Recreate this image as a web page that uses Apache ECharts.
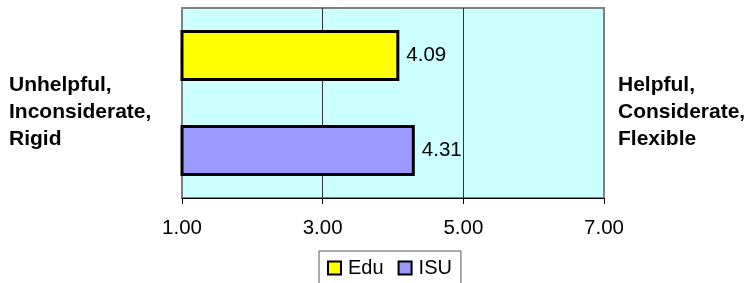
<!DOCTYPE html>
<html>
<head>
<meta charset="utf-8">
<script src="https://cdn.jsdelivr.net/npm/echarts@6/dist/echarts.min.js"></script>
<style>
html,body{margin:0;padding:0;background:#fff;}
#chart{width:748px;height:283px;}
</style>
</head>
<body>
<div id="chart"></div>
<script>
const categories = ['Edu', 'ISU'];
const seriesNames = ['Edu', 'ISU'];
const values = [4.09, 4.31];
const xTicks = [1, 3, 5, 7];
const leftLabel = 'Unhelpful,\nInconsiderate,\nRigid';
const rightLabel = 'Helpful,\nConsiderate,\nFlexible';
const colors = ['#FFFF00', '#9999FF'];

const FONT = "'Liberation Sans', Arial, sans-serif";

const chart = echarts.init(document.getElementById('chart'), null, {renderer: 'canvas'});

const series = seriesNames.map((name, i) => ({
  name: name,
  type: 'bar',
  barWidth: 51,
  barGap: '-100%',
  data: categories.map((c, j) => (j === i ? values[i] : '-')),
  itemStyle: {color: colors[i], borderColor: '#000', borderWidth: 3},
  label: {
    show: true,
    position: 'right',
    distance: 7,
    formatter: p => Number(p.value).toFixed(2),
    fontSize: 20.5,
    fontFamily: FONT,
    color: '#000'
  },
  animation: false
}));

chart.setOption({
  animation: false,
  backgroundColor: '#fff',
  grid: {
    left: 182, right: 144, top: 8, bottom: 85,
    show: true,
    backgroundColor: '#CCFFFF',
    borderColor: '#808080',
    borderWidth: 2
  },
  xAxis: {
    type: 'value',
    min: xTicks[0],
    max: xTicks[xTicks.length - 1],
    interval: xTicks[1] - xTicks[0],
    axisLine: {show: true, lineStyle: {color: '#000', width: 1}},
    axisTick: {show: true, inside: false, length: 6, lineStyle: {color: '#000'}},
    axisLabel: {
      margin: 20,
      fontSize: 20.5,
      fontFamily: FONT,
      color: '#000',
      formatter: v => Number(v).toFixed(2)
    },
    splitLine: {show: true, showMinLine: false, showMaxLine: false, lineStyle: {color: '#333', width: 1}}
  },
  yAxis: {
    type: 'category',
    data: categories,
    inverse: true,
    axisLine: {show: false},
    axisTick: {show: false},
    axisLabel: {show: false},
    splitLine: {show: false}
  },
  legend: {
    data: seriesNames,
    left: 319,
    top: 251,
    orient: 'horizontal',
    padding: [7, 9, 7, 8],
    itemGap: 14,
    itemWidth: 13,
    itemHeight: 13,
    icon: 'rect',
    borderColor: '#555',
    borderWidth: 1,
    backgroundColor: '#fff',
    itemStyle: {borderColor: '#000', borderWidth: 2},
    textStyle: {fontSize: 20, fontFamily: FONT, color: '#000', padding: [0, 0, 0, 2]}
  },
  graphic: [
    {
      type: 'text', left: 9, top: 72,
      style: {text: leftLabel, font: "bold 21px " + FONT, lineHeight: 27, fill: '#000'}
    },
    {
      type: 'text', left: 618, top: 72,
      style: {text: rightLabel, font: "bold 21px " + FONT, lineHeight: 27, fill: '#000'}
    }
  ],
  series: series
});
</script>
</body>
</html>
